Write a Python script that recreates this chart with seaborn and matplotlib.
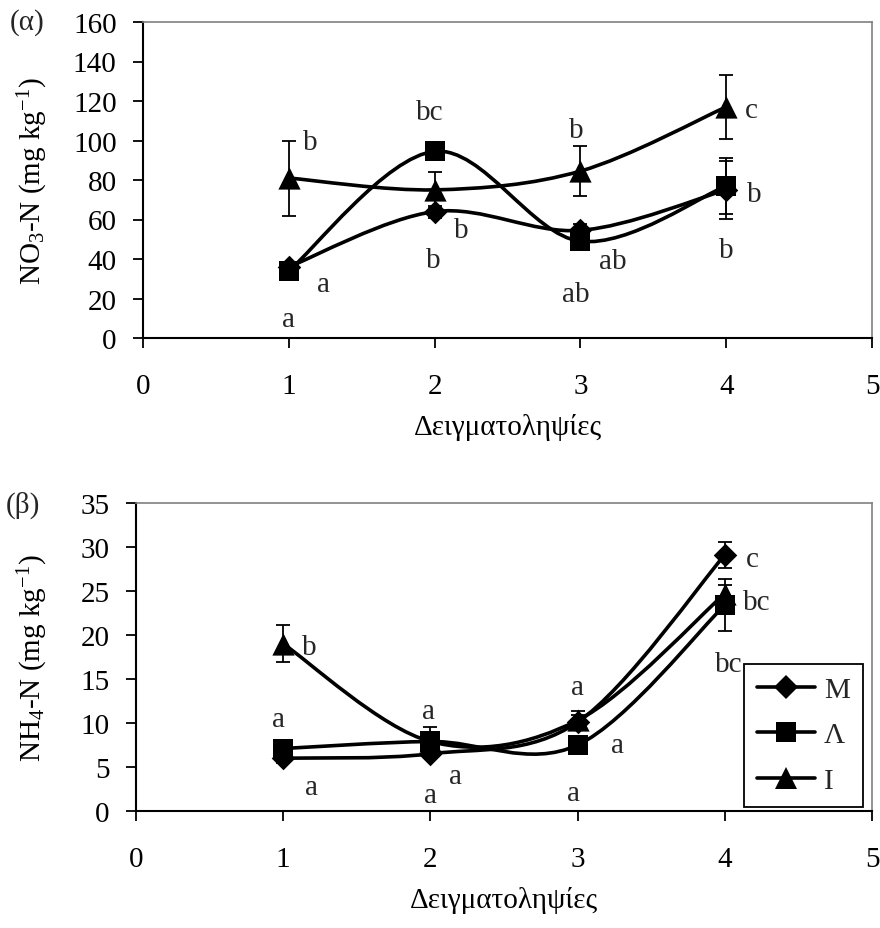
import numpy as np
import seaborn as sns
import matplotlib.pyplot as plt
from matplotlib.path import Path
from matplotlib.patches import PathPatch
from matplotlib.lines import Line2D

# Δειγματοληψίες και σειρές
samples = [1, 2, 3, 4]
series = ["M", "Λ", "I"]

# (α) NO3-N
no3_m = [36, 64, 54.5, 75]
no3_m_err = [2, 3, 3, 14.5]
no3_l = [34, 94.5, 49, 77]
no3_l_err = [2, 3, 3, 14]
no3_i = [81, 75, 84.5, 117]
no3_i_err = [19, 9, 12.5, 16]

# (β) NH4-N
nh4_m = [6.0, 6.5, 10.1, 29.1]
nh4_m_err = [0.5, 0.5, 0.8, 1.5]
nh4_l = [7.1, 7.9, 7.5, 23.4]
nh4_l_err = [0.5, 1.6, 0.8, 3.0]
nh4_i = [19.0, 7.9, 10.3, 24.7]
nh4_i_err = [2.1, 0.8, 1.1, 1.0]

# γράμματα σημαντικότητας
no3_letters = ["b", "a", "a", "bc", "b", "b", "b", "ab", "ab", "c", "b", "b"]
nh4_letters = ["b", "a", "a", "a", "a", "c", "bc", "bc", "a", "a", "a", "a"]

sns.set_theme(style="ticks")
plt.rcParams["font.family"] = ["Liberation Serif", "DejaVu Serif"]
plt.rcParams["mathtext.fontset"] = "custom"
plt.rcParams["mathtext.rm"] = "Liberation Serif"

FS = 21
marker_style = {"M": ("D", 12), "Λ": ("s", 15), "I": ("^", 16)}


def smooth_path(xs, ys):
    # καμπύλη τύπου Excel (Catmull-Rom -> Bezier)
    pts = np.column_stack([xs, ys]).astype(float)
    n = len(pts)
    verts = [pts[0]]
    codes = [Path.MOVETO]
    for i in range(n - 1):
        p0 = pts[max(i - 1, 0)]
        p1 = pts[i]
        p2 = pts[i + 1]
        p3 = pts[min(i + 2, n - 1)]
        verts += [p1 + (p2 - p0) / 6, p2 - (p3 - p1) / 6, p2]
        codes += [Path.CURVE4] * 3
    return Path(verts, codes)


def draw_panel(ax, values, errors, ymax, ystep, ylabel):
    for name in series:
        ys = values[name]
        ax.add_patch(PathPatch(smooth_path(samples, ys), fill=False,
                               lw=2.6, edgecolor="black", zorder=2))
        ax.errorbar(samples, ys, yerr=errors[name], fmt="none", ecolor="black",
                    elinewidth=1.3, capsize=5, capthick=1.3, zorder=3)
    for name in ["I", "M", "Λ"]:
        m, size = marker_style[name]
        sns.scatterplot(x=samples, y=values[name], marker=m, s=size ** 2,
                        color="black", linewidth=0, ax=ax, zorder=4, legend=False)

    ax.set_xlim(0, 5)
    ax.set_xticks(range(6))
    ax.set_ylim(0, ymax)
    ax.set_yticks(np.arange(0, ymax + 1, ystep))
    ax.tick_params(direction="out", length=7, width=1.3, color="black",
                   labelsize=FS, labelcolor="black")
    ax.tick_params(axis="x", pad=18)
    ax.tick_params(axis="y", pad=12)
    for s in ["left", "bottom"]:
        ax.spines[s].set_color("black")
        ax.spines[s].set_linewidth(1.5)
    for s in ["top", "right"]:
        ax.spines[s].set_color("#808080")
        ax.spines[s].set_linewidth(1.2)
    ax.set_xlabel("Δειγματοληψίες", fontsize=FS, color="black", labelpad=10)
    ax.set_ylabel(ylabel, fontsize=FS, color="black")
    ax.grid(False)


def put_letters(ax, letters, pos):
    for t, (x, y) in zip(letters, pos):
        ax.text(x, y, t, fontsize=FS, ha="center", va="baseline", zorder=5)


fig = plt.figure(figsize=(8.8, 9.29), dpi=100)
ax1 = fig.add_axes([143 / 880, 1 - 339 / 929, 729 / 880, 316 / 929])
ax2 = fig.add_axes([136 / 880, 1 - 812 / 929, 736 / 880, 308 / 929])

draw_panel(ax1, {"M": no3_m, "Λ": no3_l, "I": no3_i},
           {"M": no3_m_err, "Λ": no3_l_err, "I": no3_i_err},
           160, 20, r"NO$\mathregular{_3}$-N (mg kg$\mathregular{^{-1}}$)")
draw_panel(ax2, {"M": nh4_m, "Λ": nh4_l, "I": nh4_i},
           {"M": nh4_m_err, "Λ": nh4_l_err, "I": nh4_i_err},
           35, 5, r"NH$\mathregular{_4}$-N (mg kg$\mathregular{^{-1}}$)")

put_letters(ax1, no3_letters,
            [(1.15, 95.5), (1.24, 23.6), (1.0, 5.9), (1.97, 111), (2.18, 51),
             (1.99, 36.2), (2.97, 101.9), (3.22, 35.4), (2.97, 18.5),
             (4.17, 112), (4.19, 69.5), (4.0, 41.2)])
put_letters(ax2, nh4_letters,
            [(1.18, 17.8), (0.97, 9.7), (1.99, 10.6), (3.0, 13.3), (3.27, 6.7),
             (4.19, 27.8), (4.22, 23.0), (4.03, 15.9), (1.19, 1.9),
             (2.0, 1.05), (2.17, 3.2), (2.97, 1.25)])

ax1.yaxis.set_label_coords(-0.128, 0.5)
ax2.yaxis.set_label_coords(-0.117, 0.5)

fig.text(27 / 880, 1 - 23 / 929, "(α)", fontsize=FS, ha="center", va="center")
fig.text(23 / 880, 1 - 505 / 929, "(β)", fontsize=FS, ha="center", va="center")

handles = [Line2D([], [], color="black", lw=2.6, marker=marker_style[n][0],
                  markersize=marker_style[n][1], markeredgewidth=0) for n in series]
leg = ax2.legend(handles, series, loc="lower right", bbox_to_anchor=(0.988, 0.013),
                 borderaxespad=0, fontsize=FS, frameon=True, fancybox=False,
                 framealpha=1, edgecolor="black", handlelength=2.0,
                 handletextpad=0.3, labelspacing=0.65, borderpad=0.45)
leg.get_frame().set_linewidth(1.3)

fig.savefig("out.png", dpi=100)
